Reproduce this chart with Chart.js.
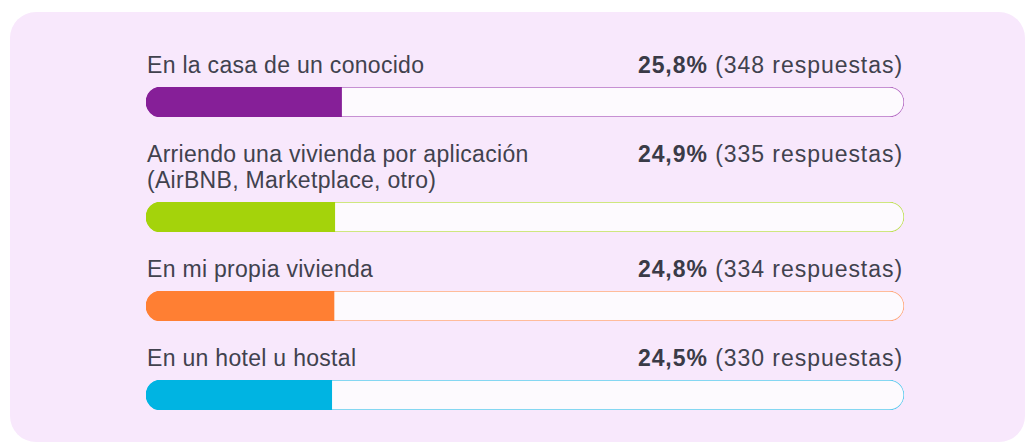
<!DOCTYPE html>
<html>
<head>
<meta charset="utf-8">
<script src="https://cdn.jsdelivr.net/npm/chart.js@4.4.1/dist/chart.umd.min.js"></script>
<style>
  html, body { margin: 0; padding: 0; background: #ffffff; width: 1027px; height: 442px; overflow: hidden; }
  #card { position: absolute; left: 10px; top: 12px; width: 1015px; height: 430px; border-radius: 26px; background: #f8e8fc; }
  #rows { position: absolute; left: 146px; top: 51px; width: 758px; }
  .row { margin-bottom: 23px; }
  .head { display: flex; justify-content: space-between; align-items: flex-start; padding-top: 1px; font-family: "Liberation Sans", Arial, sans-serif; font-size: 23px; line-height: 26px; color: #41424e; }
  .head .lbl { padding-left: 1px; letter-spacing: 0.3px; }
  .head .lbl div { height: 26px; white-space: nowrap; }
  .head .val { white-space: nowrap; letter-spacing: 0.95px; padding-right: 1px; }
  .head .val b { font-weight: 700; color: #3a3b47; }
  .bar { position: relative; width: 758px; height: 30px; margin-top: 9px; }
</style>
</head>
<body>
<div id="card"></div>
<div id="rows"></div>
<script>
// data
var labels = [
  ['En la casa de un conocido'],
  ['Arriendo una vivienda por aplicación', '(AirBNB, Marketplace, otro)'],
  ['En mi propia vivienda'],
  ['En un hotel u hostal']
];
var percents = [25.8, 24.9, 24.8, 24.5];
var counts = [348, 335, 334, 330];
var colors = ['#861f98', '#a4d30b', '#ff7f33', '#00b4e2'];
var borderColors = ['#b56dc4', '#bfe055', '#ffa77a', '#5ccbee'];

var rows = document.getElementById('rows');

labels.forEach(function(lbl, i)
{
  var row = document.createElement('div');
  row.className = 'row';
  var pct = percents[i].toFixed(1).replace('.', ',') + '%';
  var lines = lbl.map(function(t) { return '<div>' + t + '</div>'; }).join('');
  row.innerHTML = '<div class="head"><div class="lbl">' + lines + '</div>' +
    '<div class="val"><b>' + pct + '</b> (' + counts[i] + ' respuestas)</div></div>' +
    '<div class="bar"><canvas width="758" height="30"></canvas></div>';
  rows.appendChild(row);

  var ctx = row.querySelector('canvas').getContext('2d');
  new Chart(ctx, {
    type: 'bar',
    data: {
      labels: [lbl.join(' ')],
      datasets: [
        {
          data: [percents[i]],
          backgroundColor: colors[i],
          borderWidth: 0,
          borderRadius: {topLeft: 15, bottomLeft: 15, topRight: 0, bottomRight: 0},
          borderSkipped: false,
          barThickness: 30,
          grouped: false
        },
        {
          data: [100],
          backgroundColor: '#fdfafe',
          borderColor: borderColors[i],
          borderWidth: 1,
          borderRadius: 15,
          borderSkipped: false,
          barThickness: 30,
          grouped: false
        }
      ]
    },
    options: {
      indexAxis: 'y',
      responsive: false,
      animation: false,
      layout: {padding: 0},
      plugins: {legend: {display: false}, tooltip: {enabled: false}},
      scales: {
        x: {min: 0, max: 100, display: false},
        y: {display: false}
      }
    }
  });
});
</script>
</body>
</html>
